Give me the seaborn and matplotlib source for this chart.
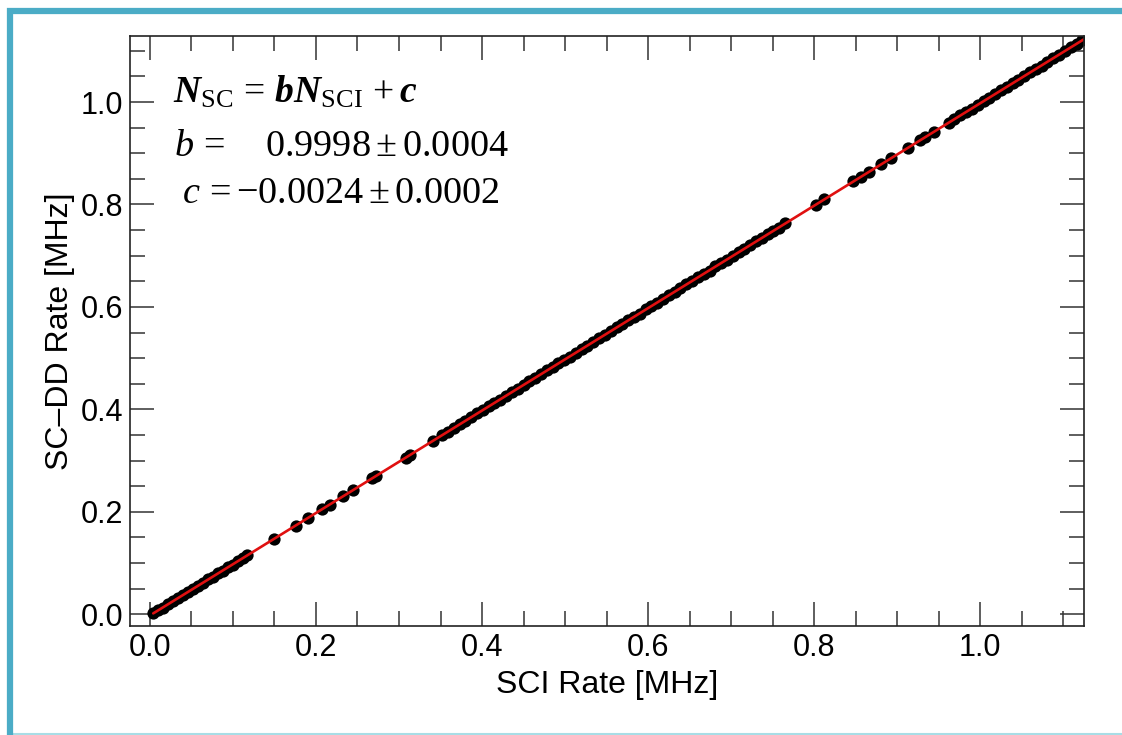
import numpy as np
import pandas as pd
import matplotlib
matplotlib.use("Agg")
import matplotlib.pyplot as plt
from matplotlib.patches import Rectangle
from matplotlib.lines import Line2D
from matplotlib.ticker import MultipleLocator, FormatStrFormatter
import seaborn as sns

# -----------------------------
# Data
# -----------------------------
sci_low = [0.004, 0.010, 0.016, 0.022, 0.028, 0.034, 0.040, 0.046, 0.052, 0.058,
           0.064, 0.070, 0.076, 0.082, 0.088, 0.094, 0.100, 0.106, 0.112, 0.117]
scdd_low = [0.003, 0.008, 0.013, 0.020, 0.026, 0.031, 0.038, 0.044, 0.049, 0.056,
            0.061, 0.068, 0.073, 0.080, 0.085, 0.092, 0.097, 0.104, 0.109, 0.115]

sci_gap1 = [0.149, 0.176, 0.190, 0.207, 0.217, 0.232, 0.245, 0.267, 0.272, 0.308,
            0.313, 0.341]
scdd_gap1 = [0.147, 0.173, 0.188, 0.205, 0.214, 0.230, 0.243, 0.265, 0.269, 0.305,
             0.311, 0.339]

sci_mid = [0.352, 0.359, 0.366, 0.373, 0.380, 0.387, 0.394, 0.401, 0.408, 0.415,
           0.422, 0.429, 0.436, 0.443, 0.450, 0.457, 0.464, 0.471, 0.478, 0.485,
           0.492, 0.499, 0.506, 0.513, 0.520, 0.527, 0.534, 0.541, 0.548, 0.555,
           0.562, 0.569, 0.576, 0.583, 0.590, 0.597, 0.604, 0.611, 0.618, 0.625,
           0.632, 0.639, 0.646, 0.653, 0.660, 0.667, 0.674, 0.681, 0.688, 0.695,
           0.702, 0.709, 0.716, 0.723, 0.730, 0.737, 0.744, 0.751, 0.758, 0.765]
scdd_mid = [0.350, 0.356, 0.364, 0.371, 0.377, 0.385, 0.392, 0.398, 0.406, 0.413,
            0.419, 0.427, 0.434, 0.440, 0.448, 0.455, 0.461, 0.469, 0.476, 0.482,
            0.490, 0.497, 0.503, 0.511, 0.518, 0.524, 0.532, 0.539, 0.545, 0.553,
            0.560, 0.566, 0.574, 0.581, 0.587, 0.595, 0.602, 0.608, 0.616, 0.623,
            0.629, 0.637, 0.644, 0.650, 0.658, 0.665, 0.671, 0.679, 0.686, 0.692,
            0.700, 0.707, 0.713, 0.721, 0.728, 0.734, 0.742, 0.749, 0.755, 0.763]

sci_gap2 = [0.802, 0.812, 0.847, 0.857, 0.866, 0.881, 0.893, 0.913, 0.928, 0.933, 0.944]
scdd_gap2 = [0.799, 0.810, 0.845, 0.854, 0.864, 0.879, 0.891, 0.911, 0.925, 0.931, 0.942]

sci_high = [0.962, 0.969, 0.976, 0.983, 0.990, 0.997, 1.004, 1.011, 1.018, 1.025,
            1.032, 1.039, 1.046, 1.053, 1.060, 1.067, 1.074, 1.081, 1.088, 1.095,
            1.102, 1.109, 1.116, 1.123, 1.130]
scdd_high = [0.960, 0.966, 0.974, 0.981, 0.987, 0.995, 1.002, 1.008, 1.016, 1.023,
             1.029, 1.037, 1.044, 1.050, 1.058, 1.065, 1.071, 1.079, 1.086, 1.092,
             1.100, 1.107, 1.113, 1.121, 1.128]

fit_b = "0.9998 \\pm 0.0004"
fit_c = "-0.0024 \\pm 0.0002"
tick_vals = [0.0, 0.2, 0.4, 0.6, 0.8, 1.0]

df = pd.DataFrame({
    "sci": sci_low + sci_gap1 + sci_mid + sci_gap2 + sci_high,
    "scdd": scdd_low + scdd_gap1 + scdd_mid + scdd_gap2 + scdd_high,
})

# -----------------------------
# Style
# -----------------------------
sns.set_style("ticks")
plt.rcParams["font.family"] = ["Liberation Sans", "DejaVu Sans"]
plt.rcParams["text.color"] = "black"
plt.rcParams["axes.labelcolor"] = "black"
plt.rcParams["mathtext.fontset"] = "custom"
plt.rcParams["mathtext.rm"] = "Liberation Serif"
plt.rcParams["mathtext.it"] = "Liberation Serif:italic"
plt.rcParams["mathtext.bf"] = "Liberation Serif:bold"
plt.rcParams["mathtext.bfit"] = "Liberation Serif:bold:italic"

fig = plt.figure(figsize=(11.22, 7.35), dpi=100)
ax = fig.add_axes([130 / 1122, 1 - 626 / 735, (1084 - 130) / 1122, (626 - 36) / 735])

ax.set_xlim(-0.024, 1.125)
ax.set_ylim(-0.023, 1.129)

# scatter + linear fit line (fit done by seaborn)
sns.regplot(data=df, x="sci", y="scdd", ax=ax, ci=None, truncate=True,
            scatter_kws={"s": 78, "color": "black", "alpha": 1, "linewidths": 0},
            line_kws={"color": "#e01010", "lw": 1.9})

ax.set_xlim(-0.024, 1.125)
ax.set_ylim(-0.023, 1.129)

ax.set_xticks(tick_vals)
ax.set_yticks(tick_vals)
ax.xaxis.set_major_formatter(FormatStrFormatter("%.1f"))
ax.yaxis.set_major_formatter(FormatStrFormatter("%.1f"))
ax.xaxis.set_minor_locator(MultipleLocator(0.05))
ax.yaxis.set_minor_locator(MultipleLocator(0.05))
ax.tick_params(which="both", direction="in", top=True, right=True,
               color="#333333", width=1.1, labelsize=22, labelcolor="black")
ax.tick_params(which="major", length=17, pad=5)
ax.tick_params(which="minor", length=11)
for s in ax.spines.values():
    s.set_color("#222222")
    s.set_linewidth(1.2)

ax.set_xlabel("SCI Rate [MHz]", fontsize=23, labelpad=5)
ax.set_ylabel("SC\u2013DD Rate [MHz]", fontsize=23, labelpad=4)

# fit result text
fig.text(173 / 1122, 1 - 103 / 735,
         r"$\mathbfit{N}_{\mathrm{SC}}\,=\,\mathbfit{b}\mathbfit{N}_{\mathrm{SCI}}\,+\mathbfit{c}$",
         fontsize=27, va="baseline", ha="left")
fig.text(174 / 1122, 1 - 156 / 735, r"$b\,=$", fontsize=27.5, va="baseline", ha="left")
fig.text(265 / 1122, 1 - 156 / 735, "$" + fit_b + "$",
         fontsize=27.5, va="baseline", ha="left")
fig.text(182 / 1122, 1 - 203 / 735, r"$c\,=$", fontsize=27.5, va="baseline", ha="left")
fig.text(236 / 1122, 1 - 203 / 735, "$" + fit_c + "$",
         fontsize=27.5, va="baseline", ha="left")

# light blue slide frame
fig.patches.append(Rectangle((10 / 1122, 1 - 740 / 735), 1.2, (740 - 11) / 735,
                             transform=fig.transFigure, fill=False,
                             edgecolor="#4bacc6", linewidth=4.5, zorder=10))
fig.lines.append(Line2D([10 / 1122, 1.0], [1 - 733.5 / 735] * 2, transform=fig.transFigure,
                        color="#a8dde6", lw=1.5, zorder=10))

fig.savefig("out.png", dpi=100)
